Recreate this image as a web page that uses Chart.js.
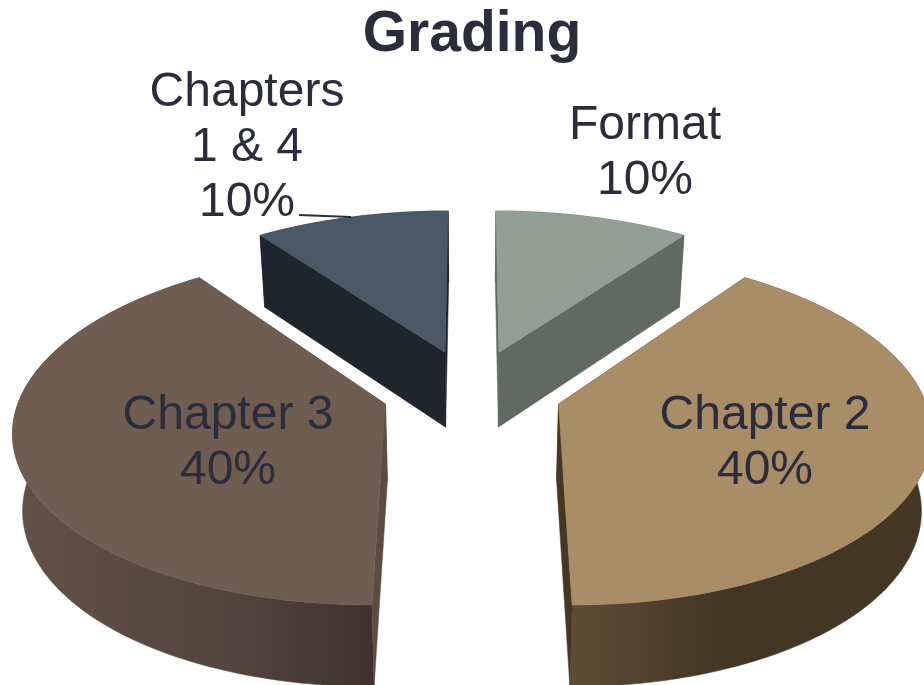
<!DOCTYPE html>
<html>
<head>
<meta charset="utf-8">
<title>Grading</title>
<script src="https://cdn.jsdelivr.net/npm/chart.js@4"></script>
<style>
    body { margin: 0; background: #fff; }
    canvas { display: block; }
</style>
</head>
<body>
<canvas id="myChart" width="924" height="685"></canvas>
<script>
const categories = ["Format", "Chapter 2", "Chapter 3", "Chapters 1 & 4"];
const shares = [10, 40, 40, 10];
const topColors = ["#919f94", "#a98d66", "#6f5d52", "#4a5868"];
const wallColors = ["#5f6a63", "#463725", "#5c4c42", "#1f252d"];
const TEXT_COLOR = "#2b2c3c";

// label text: wrapped lines and where each block sits
const labelLines = [["Format"], ["Chapter 2"], ["Chapter 3"], ["Chapters", "1 & 4"]];
const labelPos = [[645, 139], [765, 429], [228, 429], [247, 106]];

// the 3d look: pie plane -> screen, arcs come from chart.js
const CX = 472, CY = 391, RADIUS = 364, EXPLODE = 90;
const PERSP = 0.00037, TILT = 0.467;

function project(u, v, low) {
    let w = 1 + PERSP * v;
    let x = CX + u / w;
    let y = CY - TILT * v / w;
    if (low) {
        x = CX + (x - CX) * 0.978;
        y = y + 75 + 0.027 * (y - 353);
    }
    return [x, y];
}

function fillPoly(ctx, pts, color) {
    ctx.beginPath();
    pts.forEach((p, i) => i ? ctx.lineTo(p[0], p[1]) : ctx.moveTo(p[0], p[1]));
    ctx.closePath();
    ctx.fillStyle = color;
    ctx.fill();
    ctx.strokeStyle = color;
    ctx.lineWidth = 0.5;
    ctx.stroke();
}

function rimGradient(ctx, i) {
    let g;
    if (i == 1) {
        g = ctx.createLinearGradient(570, 0, 720, 0);
        g.addColorStop(0, "#5e4c37");
        g.addColorStop(1, "#443625");
    } else if (i == 2) {
        g = ctx.createLinearGradient(30, 0, 376, 0);
        g.addColorStop(0, "#615045");
        g.addColorStop(0.6, "#53443c");
        g.addColorStop(1, "#3f322d");
    } else {
        return wallColors[i];
    }
    return g;
}

const pie3d = {
    id: "pie3d",
    beforeDatasetsDraw(chart) {
        const ctx = chart.ctx;
        const arcs = chart.getDatasetMeta(0).data;
        // back slices first
        [0, 3, 2, 1].forEach((i) => {
            const arc = arcs[i];
            const a0 = arc.startAngle + Math.PI / 2;
            const a1 = arc.endAngle + Math.PI / 2;
            const mid = (a0 + a1) / 2;
            const ox = arc.options.offset * Math.sin(mid);
            const oy = arc.options.offset * Math.cos(mid);
            const rimTop = [], rimLow = [];
            const steps = Math.ceil((a1 - a0) * 180 / Math.PI);
            for (let s = 0; s <= steps; s++) {
                const a = a0 + (a1 - a0) * s / steps;
                const u = ox + RADIUS * Math.sin(a);
                const v = oy + RADIUS * Math.cos(a);
                rimTop.push(project(u, v, false));
                rimLow.push(project(u, v, true));
            }
            const apexTop = project(ox, oy, false);
            const apexLow = project(ox, oy, true);
            // rim wall, then the two cut walls, then the top face
            fillPoly(ctx, rimTop.concat(rimLow.slice().reverse()), rimGradient(ctx, i));
            fillPoly(ctx, [apexTop, rimTop[0], rimLow[0], apexLow], wallColors[i]);
            fillPoly(ctx, [apexTop, rimTop[steps], rimLow[steps], apexLow], wallColors[i]);
            fillPoly(ctx, [apexTop].concat(rimTop), arc.options.backgroundColor);
        });
        return false;
    },
    afterDraw(chart) {
        const ctx = chart.ctx;
        ctx.save();
        ctx.fillStyle = TEXT_COLOR;
        ctx.font = "48px 'Liberation Sans'";
        ctx.textAlign = "center";
        ctx.textBaseline = "alphabetic";
        shares.forEach((val, i) => {
            const lines = labelLines[i].concat(val + "%");
            lines.forEach((t, n) => {
                ctx.fillText(t, labelPos[i][0], labelPos[i][1] + n * 55);
            });
        });
        // leader line for the small slice
        ctx.strokeStyle = TEXT_COLOR;
        ctx.lineWidth = 2;
        ctx.beginPath();
        ctx.moveTo(299, 215);
        ctx.lineTo(351, 217);
        ctx.stroke();
        ctx.restore();
    }
};

const myChart = new Chart(document.getElementById("myChart"), {
    type: "pie",
    data: {
        labels: categories,
        datasets: [{
            data: shares,
            backgroundColor: topColors,
            offset: EXPLODE,
            borderWidth: 0,
        }],
    },
    options: {
        responsive: false,
        animation: false,
        layout: { padding: { left: 20 } },
        plugins: {
            legend: { display: false },
            tooltip: { enabled: false },
            title: {
                display: true,
                text: "Grading",
                color: TEXT_COLOR,
                font: { family: "'Liberation Sans'", size: 57, weight: "bold", lineHeight: 1 },
                padding: { top: 7, bottom: 4 },
            },
        },
    },
    plugins: [pie3d],
});
</script>
</body>
</html>
